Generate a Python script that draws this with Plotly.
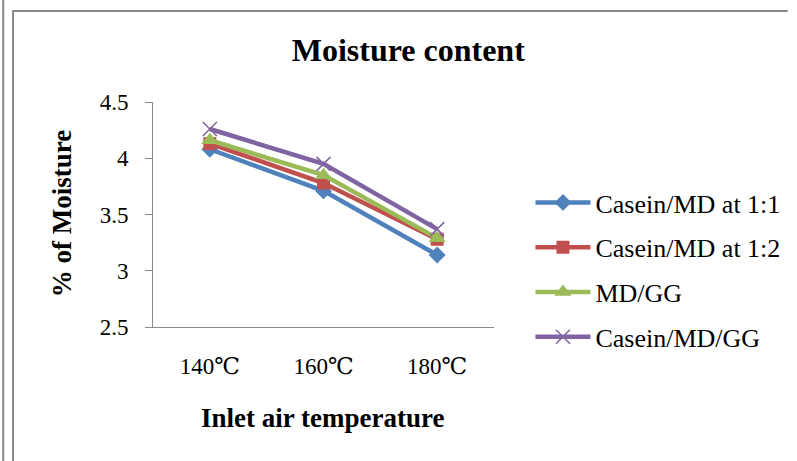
import plotly.graph_objects as go

categories = ["140℃", "160℃", "180℃"]
casein_md_11 = [4.08, 3.71, 3.14]
casein_md_12 = [4.13, 3.78, 3.28]
md_gg = [4.16, 3.85, 3.29]
casein_md_gg = [4.26, 3.95, 3.37]

series = [
    ("Casein/MD at 1:1", casein_md_11, "#4F81BD", "diamond", 13),
    ("Casein/MD at 1:2", casein_md_12, "#C0504D", "square", 13),
    ("MD/GG", md_gg, "#9BBB59", "triangle-up", 15),
    ("Casein/MD/GG", casein_md_gg, "#8064A2", "x-thin", 14),
]

FONT = "Times New Roman, Liberation Serif, DejaVu Serif, serif"
W, H = 797, 461
L, R, T, B = 153, 499, 102, 327
pw, ph = R - L, B - T

def px(x):
    return (x - L) / pw

def py(y):
    return (B - y) / ph

fig = go.Figure()
for i, (name, vals, color, sym, size) in enumerate(series):
    marker = dict(symbol=sym, size=size, color=color)
    if sym == "x-thin":
        marker["line"] = dict(color=color, width=1.5)
    fig.add_trace(go.Scatter(
        x=categories, y=vals, name=name, mode="lines+markers",
        line=dict(color=color, width=4.5), marker=marker,
        legendgroup=f"g{i}",
    ))

gray = "#888888"
shapes = [
    dict(type="line", xref="paper", yref="paper", x0=px(1), x1=px(1), y0=py(0), y1=py(H),
         line=dict(color=gray, width=2)),
    dict(type="line", xref="paper", yref="paper", x0=px(11), x1=px(11), y0=py(11), y1=py(H),
         line=dict(color=gray, width=2)),
    dict(type="line", xref="paper", yref="paper", x0=px(10), x1=px(W), y0=py(11), y1=py(11),
         line=dict(color=gray, width=2)),
]

annotations = [
    dict(text="<b>% of Moisture</b>", xref="paper", yref="paper", x=px(61), y=py(214),
         textangle=-90, showarrow=False, font=dict(family=FONT, size=27, color="black"),
         xanchor="center", yanchor="middle"),
    dict(text="<b>Inlet air temperature</b>", xref="paper", yref="paper", x=px(325), y=py(418),
         showarrow=False, font=dict(family=FONT, size=27, color="black"),
         xanchor="center", yanchor="middle"),
]

fig.update_layout(
    width=W, height=H,
    margin=dict(l=L, r=W - R, t=T, b=H - B),
    paper_bgcolor="white", plot_bgcolor="white",
    title=dict(text="<b>Moisture content</b>", x=px(412), xanchor="center", xref="paper",
               y=1 - 50 / H, yanchor="middle", yref="container",
               font=dict(family=FONT, size=32, color="black")),
    shapes=shapes,
    annotations=annotations,
    showlegend=True,
    legend=dict(x=px(536), y=py(179), xanchor="left", yanchor="top",
                font=dict(family=FONT, size=26, color="black"),
                itemwidth=55, tracegroupgap=8, bgcolor="rgba(0,0,0,0)"),
    xaxis=dict(type="category", range=[-0.5, 2.5], showline=True, linecolor=gray, linewidth=1,
               showgrid=False, ticks="", zeroline=False,
               tickfont=dict(family=FONT, size=23, color="black"), ticklabelstandoff=18),
    yaxis=dict(range=[2.5, 4.5], dtick=0.5, tickformat="", showline=True, linecolor=gray,
               linewidth=1, showgrid=False, ticks="outside", ticklen=7, tickcolor=gray,
               zeroline=False, tickfont=dict(family=FONT, size=23, color="black"),
               ticklabelstandoff=12),
)

fig.write_html("out.html")
